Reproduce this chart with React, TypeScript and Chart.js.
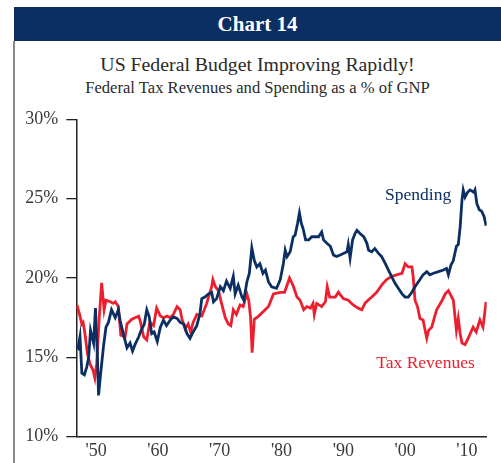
import React, { useEffect, useRef } from "react";
import { Chart, registerables } from "chart.js";

Chart.register(...registerables);

const spendYears = [1946.9,1947.1,1947.4,1947.7,1948.1,1948.5,1948.8,1949.1,1949.6,1949.9,1950.2,1950.4,1950.75,1951.2,1951.6,1952.0,1952.5,1953.1,1953.6,1953.9,1954.4,1955.0,1955.5,1955.9,1956.3,1956.9,1957.3,1957.8,1958.2,1958.6,1959.0,1959.4,1959.9,1960.4,1960.9,1961.4,1962.0,1962.5,1963.1,1963.6,1964.2,1964.7,1965.2,1965.7,1966.3,1966.8,1967.1,1967.6,1968.2,1968.7,1969.0,1969.5,1970.1,1970.6,1971.1,1971.7,1972.2,1972.5,1973.0,1973.6,1973.9,1974.4,1974.8,1975.2,1975.6,1976.0,1976.5,1977.0,1977.4,1977.9,1978.4,1979.2,1979.8,1980.3,1980.6,1980.9,1981.4,1981.9,1982.2,1982.6,1982.9,1983.2,1983.5,1983.9,1984.4,1984.9,1985.4,1986.0,1986.5,1986.8,1987.3,1987.9,1988.4,1988.9,1989.5,1990.0,1990.6,1990.8,1991.1,1991.5,1991.9,1992.2,1992.7,1993.3,1993.8,1994.1,1994.6,1995.1,1995.7,1996.2,1996.8,1997.3,1997.8,1998.4,1998.9,1999.5,2000.0,2000.5,2001.1,2001.6,2002.4,2002.9,2003.5,2004.0,2004.6,2005.4,2006.2,2006.7,2007.0,2007.4,2007.8,2008.3,2008.6,2008.9,2009.2,2009.4,2009.7,2010.1,2010.5,2011.1,2011.3,2011.6,2012.0,2012.4,2012.8,2013.1];
const spendValues = [15.7,15.6,16.3,14.0,13.9,14.4,15.0,16.7,15.9,18.1,15.25,12.6,14.0,15.7,16.9,17.2,18.0,17.5,18.0,17.3,16.5,15.6,15.9,15.4,15.8,16.3,16.7,17.1,18.0,17.55,16.5,16.6,16.0,16.9,17.35,17.0,17.35,17.55,17.45,17.2,17.1,16.5,16.2,16.6,17.0,17.75,18.7,18.8,19.0,19.1,18.5,18.7,19.45,19.2,19.8,19.35,20.1,19.0,19.55,18.8,18.6,19.75,20.3,21.9,21.1,20.7,20.9,20.3,20.5,19.75,19.45,19.35,19.9,20.9,21.75,21.35,21.65,22.6,22.7,23.45,24.1,23.45,23.1,22.4,22.4,22.6,22.6,22.6,22.9,22.4,22.2,22.0,21.45,21.35,21.45,21.55,21.65,22.1,21.25,22.4,22.8,23.0,22.8,22.6,22.2,21.75,21.65,21.85,21.55,21.35,20.9,20.5,20.1,19.65,19.35,19.0,18.8,18.8,19.1,19.45,19.9,20.2,20.4,20.2,20.3,20.4,20.5,20.6,20.2,20.8,21.1,22.0,22.1,23.2,24.9,25.55,25.1,25.4,25.55,25.4,25.55,24.7,24.3,24.2,23.85,23.3];

const taxYears = [1946.9,1947.4,1947.7,1947.9,1948.2,1948.6,1949.0,1949.5,1949.8,1950.1,1950.5,1950.9,1951.3,1951.6,1952.3,1952.8,1953.1,1953.6,1954.0,1954.7,1955.0,1955.8,1956.3,1956.9,1957.2,1957.7,1958.2,1958.7,1959.3,1959.8,1960.4,1960.9,1961.5,1962.0,1962.5,1963.1,1963.6,1963.9,1964.4,1964.9,1965.3,1965.7,1966.3,1967.1,1967.9,1968.7,1968.9,1969.3,1969.8,1970.3,1970.9,1971.4,1971.8,1972.2,1972.7,1973.3,1973.8,1974.4,1974.7,1975.0,1975.25,1975.6,1976.3,1977.1,1977.9,1978.7,1979.8,1980.5,1981.3,1981.9,1982.5,1983.0,1983.6,1984.1,1984.7,1985.1,1985.3,1985.7,1986.5,1987.1,1987.4,1987.8,1988.7,1989.2,1990.0,1990.8,1991.6,1992.4,1993.0,1993.5,1994.0,1994.6,1995.4,1996.2,1997.0,1997.8,1998.6,1999.5,2000.0,2000.5,2001.1,2001.3,2001.6,2002.0,2002.4,2002.9,2003.5,2003.8,2004.3,2005.1,2006.0,2006.5,2007.0,2007.8,2008.3,2008.6,2008.9,2009.2,2009.7,2010.2,2011.0,2011.5,2012.1,2012.6,2013.1];
const taxValues = [18.3,17.6,17.1,17.2,16.5,15.25,14.6,14.2,13.7,14.6,17.4,19.7,18.0,18.6,18.5,18.4,18.5,18.2,16.4,16.3,17.1,17.4,17.5,17.6,17.2,16.3,16.1,17.2,17.0,18.1,17.6,17.5,17.6,17.5,17.7,18.2,18.0,17.4,16.8,17.1,16.6,17.2,17.7,17.6,18.4,19.45,19.9,19.45,19.2,18.4,17.5,17.1,17.0,18.0,17.7,18.3,18.2,19.0,18.6,17.5,15.3,17.4,17.6,17.9,18.2,19.0,19.1,19.1,20.0,19.5,18.8,18.6,18.0,18.2,18.1,18.4,17.7,18.4,18.2,18.5,19.45,18.8,18.8,19.1,18.7,18.6,18.3,18.1,18.0,18.4,18.6,18.8,19.1,19.55,19.9,20.1,20.2,20.3,20.9,20.7,20.7,20.1,18.6,18.2,17.45,17.35,16.2,16.7,16.9,18.0,18.6,19.0,19.2,18.6,16.7,17.45,16.5,15.9,15.8,16.2,16.9,16.6,17.35,16.9,18.5];

const xTicks = [1950, 1960, 1970, 1980, 1990, 2000, 2010];
const yTicks = [10, 15, 20, 25, 30];

const NAVY = "#0c2f63";
const RED = "#ec1f2e";
const SERIF = "'Liberation Serif', 'Times New Roman', serif";

const seriesLabels = [
  { text: "Spending", x: 2002.1, y: 24.9, color: NAVY },
  { text: "Tax Revenues", x: 2003.3, y: 14.33, color: RED },
];

const labelPlugin = {
  id: "seriesLabels",
  afterDatasetsDraw(chart: any) {
    const { ctx, scales } = chart;
    ctx.save();
    ctx.font = `17.5px ${SERIF}`;
    ctx.textAlign = "center";
    ctx.textBaseline = "alphabetic";
    for (const l of seriesLabels) {
      ctx.fillStyle = l.color;
      ctx.fillText(l.text, scales.x.getPixelForValue(l.x), scales.y.getPixelForValue(l.y));
    }
    ctx.restore();
  },
};

export default function App() {
  const ref = useRef<HTMLCanvasElement>(null);
  useEffect(() => {
    if (!ref.current) return;
    const chart = new Chart(ref.current, {
      type: "line",
      data: {
        datasets: [
          {
            label: "Spending",
            data: spendYears.map((x, i) => ({ x, y: spendValues[i] })),
            borderColor: NAVY,
            borderWidth: 2.8,
            pointRadius: 0,
            tension: 0,
          },
          {
            label: "Tax Revenues",
            data: taxYears.map((x, i) => ({ x, y: taxValues[i] })),
            borderColor: RED,
            borderWidth: 2.8,
            pointRadius: 0,
            tension: 0,
          },
        ],
      },
      options: {
        animation: false,
        responsive: false,
        devicePixelRatio: 1,
        layout: { padding: { left: 0, right: 14.3, top: 119.3, bottom: 0 } },
        plugins: { legend: { display: false }, tooltip: { enabled: false }, title: { display: false } },
        scales: {
          x: {
            type: "linear",
            min: 1946.8,
            max: 2013.2,
            afterBuildTicks: (s: any) => {
              s.ticks = xTicks.map((v) => ({ value: v }));
            },
            afterFit: (s: any) => {
              s.height = 26.3;
            },
            grid: { display: false, drawTicks: false },
            border: { display: true, color: "#222", width: 1.5 },
            ticks: {
              padding: 4,
              color: "#3a3a3a",
              font: { family: SERIF, size: 18 },
              maxRotation: 0,
              callback: (v: any) => "'" + String(Number(v) % 100).padStart(2, "0"),
            },
          },
          y: {
            min: 10,
            max: 30,
            afterBuildTicks: (s: any) => {
              s.ticks = yTicks.map((v) => ({ value: v }));
            },
            afterFit: (s: any) => {
              s.width = 76.3;
            },
            grid: { display: true, drawOnChartArea: false, drawTicks: true, tickLength: 10, color: "#222", lineWidth: 1.3 },
            border: { display: true, color: "#222", width: 1.5 },
            ticks: {
              padding: 8,
              color: "#3a3a3a",
              font: { family: SERIF, size: 18 },
              callback: (v: any) => v + "%",
            },
          },
        },
      },
      plugins: [labelPlugin],
    });
    return () => chart.destroy();
  }, []);

  return (
    <div style={{ position: "absolute", left: 0, top: 0, width: 501, height: 463, background: "#fff", overflow: "hidden" }}>
      <div style={{ position: "absolute", left: 13, top: 41, width: 2, height: 422, background: "#8a8a8a" }} />
      <div
        style={{
          position: "absolute", left: 14, top: 7, width: 487, height: 34, background: NAVY,
          color: "#fff", fontFamily: SERIF, fontWeight: "bold", fontSize: 21, lineHeight: "34px", textAlign: "center",
        }}
      >
        Chart 14
      </div>
      <div style={{ position: "absolute", left: 14, top: 52, width: 487, textAlign: "center", fontFamily: SERIF, fontSize: 19.8, color: "#2a2a2a", lineHeight: "24px" }}>
        US Federal Budget Improving Rapidly!
      </div>
      <div style={{ position: "absolute", left: 14, top: 78, width: 487, textAlign: "center", fontFamily: SERIF, fontSize: 16.6, color: "#2a2a2a", lineHeight: "20px" }}>
        Federal Tax Revenues and Spending as a % of GNP
      </div>
      <canvas ref={ref} width={501} height={463} style={{ position: "absolute", left: 0, top: 0, width: 501, height: 463 }} />
    </div>
  );
}
